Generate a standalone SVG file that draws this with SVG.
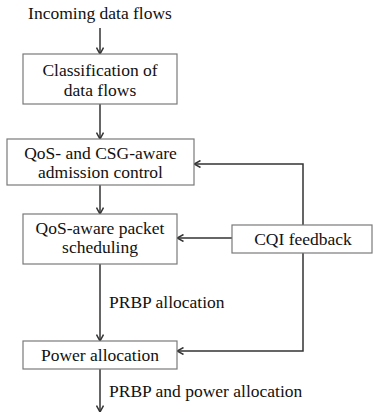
<svg xmlns="http://www.w3.org/2000/svg" width="374" height="412" viewBox="0 0 374 412">
<style>
.box{fill:#fff;stroke:#7a7a7a;stroke-width:1.2}
text{font-family:'Liberation Serif','Times New Roman','DejaVu Serif',serif;font-size:17.5px;fill:#111}
.t{text-anchor:middle}
.c{fill:none;stroke:#333;stroke-width:1.5;marker-end:url(#a)}
</style>
<defs>
<marker id="a" viewBox="0 0 8 8" refX="7.5" refY="4" markerWidth="8" markerHeight="8" markerUnits="userSpaceOnUse" orient="auto">
<path d="M1,0.5 L7.5,4 L1,7.5" fill="none" stroke="#333" stroke-width="1.5"/>
</marker>
</defs>
<rect width="374" height="412" fill="#fff"/>
<g id="connectors">
<path class="c" d="M100,28 V54"/>
<path class="c" d="M100,104 V139"/>
<path class="c" d="M100,185 V214"/>
<path class="c" d="M100,264 V341"/>
<path class="c" d="M100,369 V412"/>
<path class="c" d="M232,238 H177"/>
<path class="c" d="M303,225 V164 H194"/>
<path class="c" d="M303,253 V351 H177"/>
<text x="109" y="308">PRBP allocation</text>
<text x="109" y="397">PRBP and power allocation</text>
</g>
<g id="input"><text class="t" x="100" y="19">Incoming data flows</text></g>
<g id="classification">
<rect class="box" x="23" y="54" width="154" height="50"/>
<text class="t" x="100" y="76">Classification of</text>
<text class="t" x="100" y="96">data flows</text>
</g>
<g id="admission">
<rect class="box" x="7" y="139" width="187" height="46"/>
<text class="t" x="100.5" y="159">QoS- and CSG-aware</text>
<text class="t" x="100.5" y="178">admission control</text>
</g>
<g id="scheduling">
<rect class="box" x="23" y="214" width="154" height="50"/>
<text class="t" x="100" y="234">QoS-aware packet</text>
<text class="t" x="100" y="253">scheduling</text>
</g>
<g id="cqi">
<rect class="box" x="232" y="225" width="140" height="28"/>
<text class="t" x="303" y="245">CQI feedback</text>
</g>
<g id="power">
<rect class="box" x="23" y="341" width="154" height="28"/>
<text class="t" x="100" y="361">Power allocation</text>
</g>
</svg>
